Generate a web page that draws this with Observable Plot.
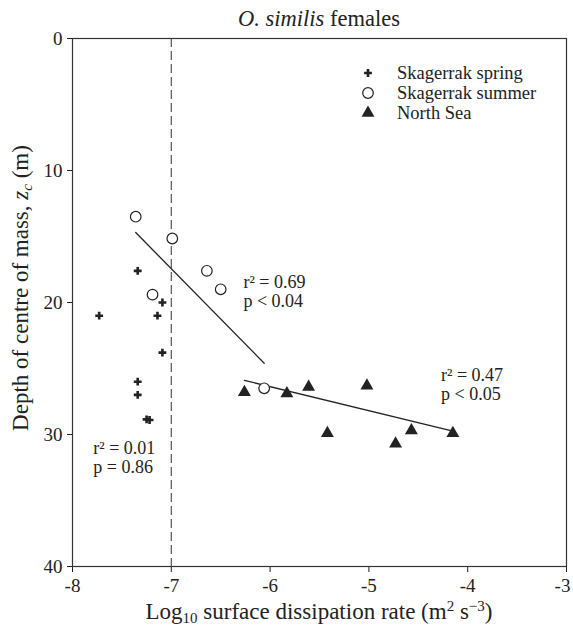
<!DOCTYPE html>
<html><head><meta charset="utf-8">
<script src="https://cdn.jsdelivr.net/npm/d3@7"></script>
<script src="https://cdn.jsdelivr.net/npm/@observablehq/plot@0.6"></script>
<style>
body{margin:0;background:#fff;}
svg text{font-family:"Liberation Serif","Times New Roman",serif;}
</style>
</head><body>
<div id="chart"></div>
<script>
// Data
const springX = [-7.73, -7.34, -7.09, -7.14, -7.09, -7.34, -7.34, -7.25, -7.22];
const springY = [21.0, 17.6, 20.0, 21.0, 23.8, 26.0, 27.0, 28.85, 28.9];
const summerX = [-7.36, -6.99, -6.64, -6.50, -7.19, -6.06];
const summerY = [13.5, 15.15, 17.6, 19.0, 19.4, 26.5];
const northX = [-6.26, -5.83, -5.61, -5.02, -5.42, -4.57, -4.15, -4.73];
const northY = [26.8, 26.9, 26.4, 26.3, 29.9, 29.7, 29.9, 30.7];
const fit1X = [-7.36, -6.06];
const fit1Y = [14.7, 24.6];
const fit2X = [-6.26, -4.15];
const fit2Y = [25.9, 29.75];
const thresholdX = [-7];
const statTexts = ["r\u00B2 = 0.69\np < 0.04", "r\u00B2 = 0.47\np < 0.05", "r\u00B2 = 0.01\np = 0.86"];
const statX = [-6.27, -4.27, -7.79];
const statY = [19.17, 26.2, 31.7];
const legendNames = ["Skagerrak spring", "Skagerrak summer", "North Sea"];
const xTicks = [-8, -7, -6, -5, -4, -3];
const yTicks = [0, 10, 20, 30, 40];

const zip = (xs, ys) => xs.map((x, i) => ({x, y: ys[i]}));
const spring = zip(springX, springY);
const summer = zip(summerX, summerY);
const north = zip(northX, northY);
const fit1 = zip(fit1X, fit1Y);
const fit2 = zip(fit2X, fit2Y);
const stats = statTexts.map((t, i) => ({t, x: statX[i], y: statY[i]}));

const W = 573, H = 626;
const mL = 72, mR = 7, mT = 38, mB = 60;
const ink = "#222";
const serif = "Liberation Serif, Times New Roman, serif";

const chart = Plot.plot({
  width: W, height: H,
  marginLeft: mL, marginRight: mR, marginTop: mT, marginBottom: mB,
  style: {fontFamily: serif, background: "white"},
  x: {domain: [-8, -3], ticks: xTicks, tickFormat: d => String(d), label: null},
  y: {domain: [0, 40], reverse: true, ticks: yTicks, tickFormat: d => String(d), label: null},
  marks: [
    Plot.axisX({ticks: xTicks, tickFormat: d => String(d), tickSize: 6, tickPadding: 6, fontSize: 19, fontFamily: serif, stroke: ink, fill: ink, label: null}),
    Plot.axisY({ticks: yTicks, tickFormat: d => String(d), tickSize: 5, tickPadding: 5, fontSize: 19, fontFamily: serif, stroke: ink, fill: ink, label: null}),
    Plot.ruleX(thresholdX, {stroke: "#555", strokeWidth: 1.2, strokeDasharray: "9,4"}),
    Plot.line(fit1, {x: "x", y: "y", stroke: ink, strokeWidth: 1.3}),
    Plot.line(fit2, {x: "x", y: "y", stroke: ink, strokeWidth: 1.3}),
    Plot.dot(spring, {x: "x", y: "y", symbol: "cross", r: 3.3, fill: ink}),
    Plot.dot(summer, {x: "x", y: "y", symbol: "circle", r: 5.3, fill: "white", stroke: ink, strokeWidth: 1.2}),
    Plot.dot(north, {x: "x", y: "y", symbol: "triangle", r: 4.8, fill: ink}),
    Plot.text(stats, {x: "x", y: "y", text: "t", textAnchor: "start", lineAnchor: "middle", fontSize: 18, fontFamily: serif, lineHeight: 1.06, fill: ink}),
    Plot.frame({stroke: "#333", strokeWidth: 1.2})
  ]
});
document.getElementById("chart").appendChild(chart);
const svg = d3.select(chart);

// keep the last x tick label inside the page
const xLabels = svg.selectAll("g[aria-label='x-axis tick label'] text").nodes();
if (xLabels.length) d3.select(xLabels[xLabels.length - 1]).attr("dx", -4);

// Legend
const legendRows = [
  {name: legendNames[0], symbol: d3.symbolCross, r: 3.3, fill: ink, stroke: "none"},
  {name: legendNames[1], symbol: d3.symbolCircle, r: 5.3, fill: "white", stroke: ink},
  {name: legendNames[2], symbol: d3.symbolTriangle, r: 4.8, fill: ink, stroke: "none"}
];
const lg = svg.append("g").attr("transform", "translate(368,73)");
legendRows.forEach((row, i) => {
  const g = lg.append("g").attr("transform", `translate(0,${i * 20})`);
  g.append("path").attr("d", d3.symbol(row.symbol, row.r * row.r * Math.PI)())
    .attr("fill", row.fill).attr("stroke", row.stroke).attr("stroke-width", 1.2);
  g.append("text").attr("x", 29).attr("dy", "0.34em").attr("font-size", 18.5)
    .attr("font-family", serif).attr("text-anchor", "start").attr("fill", ink).text(row.name);
});

// Title
const title = svg.append("text").attr("x", (mL + W - mR) / 2).attr("y", 26)
  .attr("text-anchor", "middle").attr("font-size", 22.5).attr("font-family", serif).attr("fill", ink);
title.append("tspan").attr("font-style", "italic").text("O. similis");
title.append("tspan").text(" females");

// Y label
const yl = svg.append("text").attr("transform", `translate(28,288) rotate(-90)`)
  .attr("text-anchor", "middle").attr("font-size", 23).attr("font-family", serif).attr("fill", ink);
yl.append("tspan").text("Depth of centre of mass, ");
yl.append("tspan").attr("font-style", "italic").text("z");
yl.append("tspan").attr("font-style", "italic").attr("font-size", 15).attr("dy", 4).text("c");
yl.append("tspan").attr("dy", -4).text(" (m)");

// X label
const xl = svg.append("text").attr("x", (mL + W - mR) / 2).attr("y", 619)
  .attr("text-anchor", "middle").attr("font-size", 23).attr("font-family", serif).attr("fill", ink);
xl.append("tspan").text("Log");
xl.append("tspan").attr("font-size", 15).attr("dy", 4).text("10");
xl.append("tspan").attr("dy", -4).text(" surface dissipation rate (m");
xl.append("tspan").attr("font-size", 15).attr("dy", -8).text("2");
xl.append("tspan").attr("dy", 8).text(" s");
xl.append("tspan").attr("font-size", 15).attr("dy", -8).text("\u22123");
xl.append("tspan").attr("dy", 8).text(")");
</script>
</body></html>
